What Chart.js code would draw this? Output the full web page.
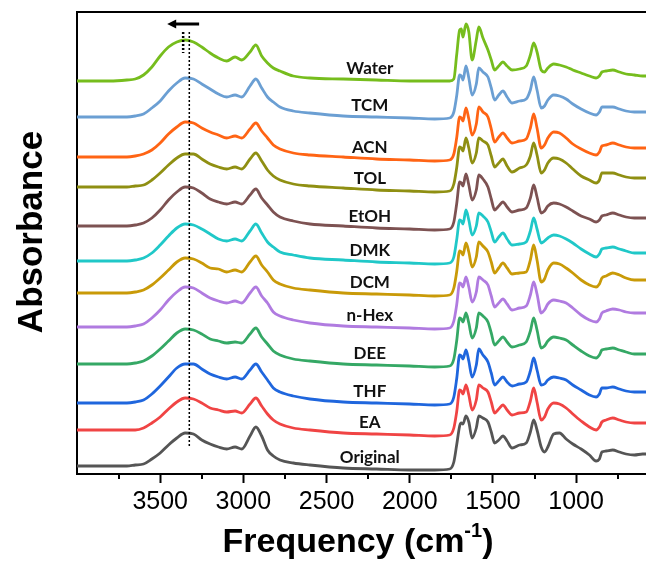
<!DOCTYPE html>
<html><head><meta charset="utf-8">
<script src="https://cdn.jsdelivr.net/npm/chart.js@4"></script>
<style>html,body{margin:0;padding:0;background:#fff}#wrap{width:646px;height:561px;position:relative}</style>
</head><body><div id="wrap"><canvas id="c"></canvas></div>
<script>
// Frequency axis (cm-1)
const freq=[4000,3800,3700,3650,3600,3550,3500,3450,3400,3350,3300,3250,3200,3150,3100,3050,3010,2960,2925,2890,2855,2820,2780,2700,2600,2400,2200,2000,
1850,1760,1735,1718,1700,1690,1680,1662,1645,1625,1600,1585,1560,1530,1510,1490,1465,1440,1415,1385,1340,1300,1275,1255,1235,1210,1190,1170,1135,1100,1060,1020,970,920,880,860,845,820,780,740,700,650,600,580];
// Absorbance (a.u., stacked with offsets)
const water=[393,393,394,395,399,407,418,427,432,434,432,427,421,416,413,417,414,422,429,418,411,406,403,398,396,395,394,393,
393,393,395,419,444,445,437,450,442,414,434,447,436,424,414,404,408,412,408,404,405,408,419,431,422,404,402,406,410,409,407,404,401,398,396,398,402,403,404,402,400,399,398,398];
const tcm=[357,357,357,358,360,366,373,383,391,396,395,390,385,380,377,379,377,388,395,386,377,372,367,363,361,358,357,356,
355,356,362,378,399,398,394,408,396,379,390,406,402,397,386,374,379,383,377,371,373,375,384,397,384,366,368,374,379,378,375,370,365,361,359,362,367,367,367,365,363,362,362,362];
const acn=[317,317,317,318,320,324,331,340,347,352,351,346,342,339,336,338,336,345,351,343,336,329,325,321,319,317,315,314,
313,314,320,336,357,356,353,366,355,339,350,367,362,357,345,332,337,341,336,331,333,335,346,360,346,326,329,336,342,341,336,330,325,321,319,322,328,329,331,329,327,326,326,326];
const tol=[287,287,287,288,289,294,301,309,316,320,320,315,310,307,305,307,305,315,321,313,304,298,294,290,288,286,284,283,
282,283,290,306,327,326,323,336,326,311,321,336,333,329,318,307,311,315,308,302,306,309,318,331,319,301,304,311,316,315,311,305,298,294,291,294,301,301,301,299,297,296,296,296];
const etoh=[248,248,248,249,251,256,264,274,282,287,286,281,275,272,270,272,270,279,285,276,269,262,257,253,250,248,246,245,
244,245,252,270,292,291,288,300,289,274,284,299,295,287,275,264,268,272,267,262,264,266,276,289,277,261,263,268,271,270,267,263,258,255,252,254,258,259,261,259,257,256,256,256];
const dmk=[213,213,213,214,216,221,229,238,246,250,249,245,240,235,233,235,233,243,250,241,232,227,222,219,216,214,212,211,
210,211,217,234,254,253,250,264,254,239,248,261,258,252,242,232,237,241,235,229,230,232,243,256,245,231,233,236,239,238,235,231,225,220,217,220,225,226,227,225,223,221,221,221];
const dcm=[181,181,181,182,184,189,196,204,212,216,215,211,206,205,202,204,202,212,218,209,202,194,190,186,184,181,180,179,
178,179,186,202,223,222,219,231,222,207,217,232,228,222,212,201,206,211,206,200,201,202,214,229,214,192,195,204,211,210,206,201,194,189,187,190,196,198,201,199,196,194,194,194];
const nhex=[147,147,147,148,150,156,164,174,182,187,186,181,176,173,171,173,171,181,187,178,171,162,158,154,151,148,147,146,
145,146,153,169,191,190,187,197,187,172,182,197,194,189,178,167,171,175,170,164,166,168,179,192,180,161,164,170,174,173,171,166,159,154,152,155,161,163,165,164,162,161,161,161];
const dee=[110,110,110,111,113,118,125,133,141,145,144,140,135,133,131,132,131,140,146,137,130,123,119,115,113,110,109,108,
107,108,115,133,156,155,152,161,151,136,146,161,158,152,141,129,133,137,132,127,129,132,143,156,144,126,128,133,137,136,134,129,123,118,116,119,124,125,126,124,122,120,120,120];
const thf=[71,71,71,72,74,80,88,97,106,110,110,105,100,97,95,97,95,104,110,102,94,86,82,78,75,72,71,70,
69,70,77,95,119,118,115,124,113,97,109,125,119,112,101,89,93,97,92,88,90,92,103,116,104,89,90,94,97,96,94,89,84,79,77,80,86,86,87,85,83,82,82,82];
const ea=[44,44,44,44,46,51,57,65,72,76,75,71,66,64,62,63,61,70,76,68,60,54,50,46,44,41,40,39,
38,39,46,62,84,83,80,89,79,64,74,89,86,82,72,61,65,69,64,59,61,62,73,86,72,54,57,65,71,70,66,60,53,47,44,47,52,54,56,54,52,51,51,51];
const original=[8,8,8,9,10,15,21,29,36,41,40,34,30,27,25,27,25,38,47,38,24,18,14,11,9,6,5,4,
4,5,12,29,48,51,50,58,52,36,46,58,56,52,42,31,34,38,33,26,29,31,42,54,44,27,22,27,40,41,35,30,25,19,13,15,22,23,24,22,20,19,20,20];

const seriesNames=['Water','TCM','ACN','TOL','EtOH','DMK','DCM','n-Hex','DEE','THF','EA','Original'];
const seriesData=[water,tcm,acn,tol,etoh,dmk,dcm,nhex,dee,thf,ea,original];
const seriesColors=['#76bd1d','#6b9fd3','#ff6414','#8f8f12','#7d5252','#20c8c8','#c99a08','#b07be0','#35a865','#1f66dd','#f04444','#555555'];
const majorTicks=[3500,3000,2500,2000,1500,1000];
const minorTicks=[3750,3250,2750,2250,1750,1250,750];
const peakMarks=[3362,3325];      // O-H band positions (dotted lines)
const shiftArrow=[3266,3458];     // arrow from -> to (cm-1)
const labelFreq=2240;

const datasets=seriesData.map((arr,i)=>({
  label:seriesNames[i],
  data:arr.map((v,j)=>({x:freq[j],y:v})),
  borderColor:seriesColors[i],
  borderWidth:2.8,
  pointRadius:0,
  fill:false,
  cubicInterpolationMode:'monotone'
}));

const overlay={id:'overlay',afterDraw(chart){
  const ctx=chart.ctx,xs=chart.scales.x,ys=chart.scales.y,a=chart.chartArea;
  ctx.save();
  ctx.strokeStyle='#000';ctx.lineWidth=2;
  ctx.beginPath();ctx.moveTo(a.left-1,a.top);ctx.lineTo(a.right,a.top);ctx.stroke();
  minorTicks.forEach(v=>{const x=Math.round(xs.getPixelForValue(v));ctx.beginPath();ctx.moveTo(x,a.bottom);ctx.lineTo(x,a.bottom+5);ctx.stroke();});
  // dotted lines
  ctx.setLineDash([2,2]);
  let x=xs.getPixelForValue(peakMarks[1]);
  ctx.lineWidth=1.5;ctx.beginPath();ctx.moveTo(x,ys.getPixelForValue(442));ctx.lineTo(x,ys.getPixelForValue(27));ctx.stroke();
  x=xs.getPixelForValue(peakMarks[0]);
  ctx.lineWidth=2.5;ctx.beginPath();ctx.moveTo(x,ys.getPixelForValue(442));ctx.lineTo(x,ys.getPixelForValue(421));ctx.stroke();
  ctx.setLineDash([]);
  // arrow
  const ay=ys.getPixelForValue(450),x0=xs.getPixelForValue(shiftArrow[0]),x1=xs.getPixelForValue(shiftArrow[1]);
  ctx.lineWidth=3;ctx.beginPath();ctx.moveTo(x0,ay);ctx.lineTo(x1+7,ay);ctx.stroke();
  ctx.fillStyle='#000';ctx.beginPath();ctx.moveTo(x1,ay);ctx.lineTo(x1+9,ay-4.5);ctx.lineTo(x1+9,ay+4.5);ctx.closePath();ctx.fill();
  // series labels
  ctx.font='bold 17px Lato, "Open Sans", sans-serif';ctx.textAlign='center';ctx.textBaseline='alphabetic';ctx.fillStyle='#111';
  const lx=xs.getPixelForValue(labelFreq);
  seriesData.forEach((arr,i)=>{ctx.fillText(seriesNames[i],lx,ys.getPixelForValue(arr[26])-6);});
  // axis titles
  ctx.fillStyle='#000';
  ctx.save();ctx.translate(42,232);ctx.rotate(-Math.PI/2);
  ctx.font='bold 35px "Liberation Sans", Arial, sans-serif';ctx.textAlign='center';ctx.fillText('Absorbance',0,0);ctx.restore();
  ctx.textAlign='left';
  const f1='bold 34px "Liberation Sans", Arial, sans-serif',f2='bold 20px "Liberation Sans", Arial, sans-serif';
  ctx.font=f1;const w1=ctx.measureText('Frequency (cm').width,w3=ctx.measureText(')').width;
  ctx.font=f2;const w2=ctx.measureText('-1').width;
  let sx=358-(w1+w2+w3)/2;const by=552;
  ctx.font=f1;ctx.fillText('Frequency (cm',sx,by);
  ctx.font=f2;ctx.fillText('-1',sx+w1,by-15);
  ctx.font=f1;ctx.fillText(')',sx+w1+w2,by);
  ctx.restore();
}};

new Chart(document.getElementById('c'),{
  type:'line',
  data:{datasets},
  options:{
    responsive:true,maintainAspectRatio:false,animation:false,
    layout:{padding:{top:12,right:0,left:0,bottom:0}},
    plugins:{legend:{display:false},tooltip:{enabled:false}},
    scales:{
      x:{type:'linear',reverse:true,min:580,max:4000,
        afterBuildTicks:s=>{s.ticks=majorTicks.map(v=>({value:v}));},
        afterFit:s=>{s.height=87;},
        grid:{drawOnChartArea:false,drawTicks:true,tickLength:9,tickWidth:2,tickColor:'#000'},
        border:{display:true,color:'#000',width:2},
        ticks:{autoSkip:false,maxRotation:0,padding:4,color:'#000',font:{family:'"Liberation Sans", Arial, sans-serif',size:25},callback:v=>String(v)}
      },
      y:{min:0,max:462,
        afterFit:s=>{s.width=77;},
        grid:{drawOnChartArea:false,drawTicks:false},
        border:{display:true,color:'#000',width:2},
        ticks:{display:false}
      }
    }
  },
  plugins:[overlay]
});
</script></body></html>
